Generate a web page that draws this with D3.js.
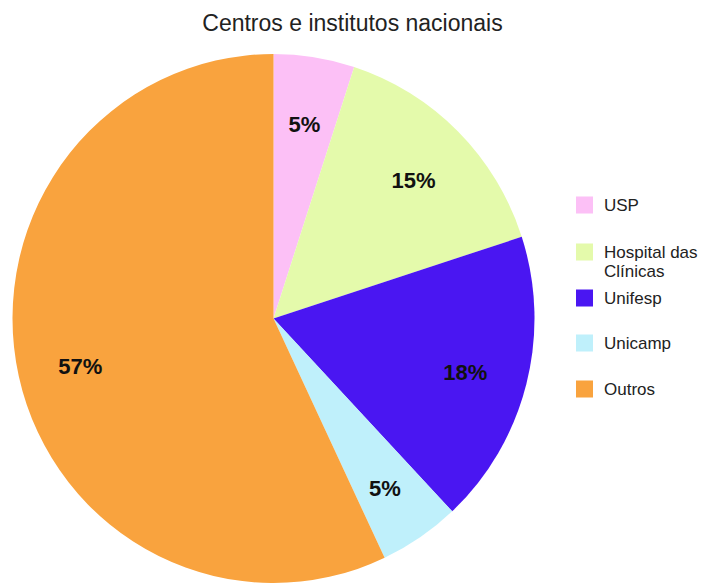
<!DOCTYPE html>
<html><head><meta charset="utf-8">
<script src="https://cdn.jsdelivr.net/npm/d3@7"></script>
<style>body{margin:0;background:#fff}svg{display:block}</style>
</head><body>
<svg id="c" width="705" height="587"></svg>
<script>
const categories = ["USP", "Hospital das Clínicas", "Unifesp", "Unicamp", "Outros"];
const legendLines = [["USP"], ["Hospital das", "Clínicas"], ["Unifesp"], ["Unicamp"], ["Outros"]];
const values = [5, 15, 18, 5, 57];
const colors = ["#fcc0f6", "#e4faab", "#4a16f2", "#bff0fb", "#f9a33e"];

const svg = d3.select("#c");
const cx = 273.5, cy = 318.5, r = 261, sy = 264.5 / 261;
const font = "Liberation Sans, Arial, sans-serif";

svg.append("text").attr("x", 352.5).attr("y", 31).attr("text-anchor", "middle")
  .attr("font-family", font).attr("font-size", 23).attr("fill", "#222")
  .text("Centros e institutos nacionais");

const pie = d3.pie().sort(null).value(d => d)(values);
const arc = d3.arc().innerRadius(0).outerRadius(r);
const labelArc = d3.arc().innerRadius(198).outerRadius(198);
const g = svg.append("g").attr("transform", `translate(${cx},${cy})`);
g.append("g").attr("transform", `scale(1,${sy})`)
  .selectAll("path").data(pie).join("path").attr("d", arc).attr("fill", (d, i) => colors[i]);
g.append("g").selectAll("text").data(pie).join("text")
  .attr("transform", d => { const c = labelArc.centroid(d); return `translate(${c[0]},${c[1] * sy})`; })
  .attr("text-anchor", "middle").attr("dy", "0.52em")
  .attr("font-family", font).attr("font-size", 22).attr("font-weight", "bold").attr("fill", "#111")
  .text(d => d.data + "%");

const legY = [205, 252, 298, 343, 389];
const lg = svg.append("g");
categories.forEach((c, i) => {
  lg.append("rect").attr("x", 576).attr("y", legY[i] - 8.5).attr("width", 17).attr("height", 17).attr("fill", colors[i]);
  legendLines[i].forEach((t, j) => {
    lg.append("text").attr("x", 604).attr("y", legY[i] + j * 19.5).attr("dy", "0.35em")
      .attr("font-family", font).attr("font-size", 17).attr("fill", "#222").text(t);
  });
});
</script>
</body></html>
